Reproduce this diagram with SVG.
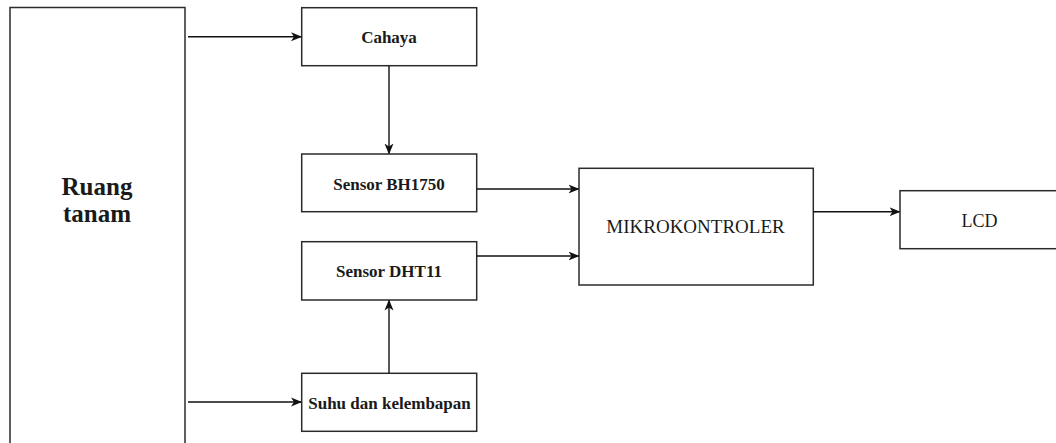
<svg xmlns="http://www.w3.org/2000/svg" width="1056" height="443" viewBox="0 0 1056 443">
<style>
.box{fill:#fff;stroke:#2b2b2b;stroke-width:1.5}
.t{font-family:"Liberation Serif","Times New Roman",serif;fill:#1a1a1a;text-anchor:middle}
.b{font-weight:bold;font-size:17px}
.r{font-size:19px}
.c{fill:none;stroke:#111;stroke-width:1.4}
</style>
<defs>
<marker id="ah" markerWidth="12" markerHeight="12" refX="10" refY="6" orient="auto" markerUnits="userSpaceOnUse">
<path d="M0,1.5 L11,6 L0,10.5 L3,6 Z" fill="#111"/>
</marker>
</defs>
<rect width="1056" height="443" fill="#fff"/>
<g id="ruang">
<rect class="box" x="10" y="7.5" width="175" height="450"/>
<text class="t" x="97" y="195" font-size="25" font-weight="bold">Ruang</text>
<text class="t" x="97" y="221.5" font-size="25" font-weight="bold">tanam</text>
</g>
<g id="cahaya">
<rect class="box" x="301.7" y="7.7" width="175" height="58"/>
<text class="t b" x="389" y="43.3">Cahaya</text>
</g>
<g id="bh1750">
<rect class="box" x="301.7" y="154" width="175" height="57.7"/>
<text class="t b" x="389" y="190">Sensor BH1750</text>
</g>
<g id="dht11">
<rect class="box" x="301.7" y="241.7" width="175" height="58.3"/>
<text class="t b" x="389" y="277.3">Sensor DHT11</text>
</g>
<g id="suhu">
<rect class="box" x="301.7" y="373.3" width="175" height="58"/>
<text class="t b" x="389.5" y="409.3">Suhu dan kelembapan</text>
</g>
<g id="mikro">
<rect class="box" x="579" y="168.3" width="234.3" height="116.7"/>
<text class="t r" x="695.5" y="233">MIKROKONTROLER</text>
</g>
<g id="lcd">
<rect class="box" x="900" y="190.7" width="170" height="58"/>
<text class="t" x="979.5" y="226.7" font-size="18">LCD</text>
</g>
<g id="connectors">
<line class="c" x1="188" y1="36.7" x2="301" y2="36.7" marker-end="url(#ah)"/>
<line class="c" x1="188" y1="402" x2="301" y2="402" marker-end="url(#ah)"/>
<line class="c" x1="389" y1="65.7" x2="389" y2="153.5" marker-end="url(#ah)"/>
<line class="c" x1="389" y1="373.3" x2="389" y2="300.5" marker-end="url(#ah)"/>
<line class="c" x1="476.7" y1="189" x2="578.5" y2="189" marker-end="url(#ah)"/>
<line class="c" x1="476.7" y1="256" x2="578.5" y2="256" marker-end="url(#ah)"/>
<line class="c" x1="813.3" y1="211.7" x2="899.5" y2="211.7" marker-end="url(#ah)"/>
</g>
</svg>
